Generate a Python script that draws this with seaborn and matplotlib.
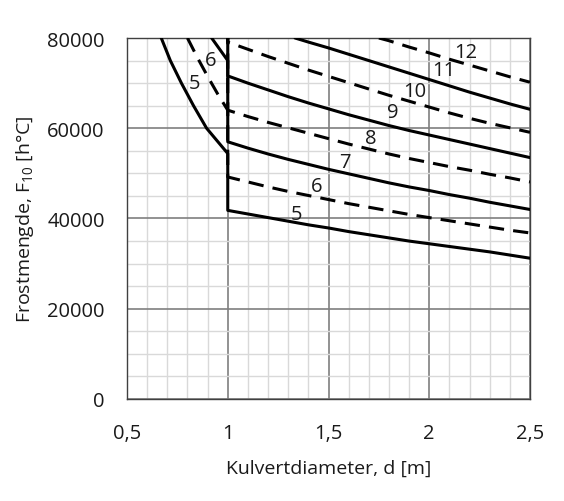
import numpy as np
import pandas as pd
import matplotlib
matplotlib.use("Agg")
import matplotlib.pyplot as plt
import seaborn as sns

# ---- data ----
d_right = [1.0, 1.1, 1.2, 1.3, 1.4, 1.5, 1.6, 1.7, 1.8, 1.9, 2.0, 2.1, 2.2, 2.3, 2.4, 2.5]

x5 = [0.67, 0.715, 0.77, 0.83, 0.895, 1.0] + d_right
y5 = [80000, 75000, 70000, 65000, 60000, 54400,
      41800, 41000, 40200, 39400, 38600, 37900, 37100, 36400, 35700, 35000, 34400,
      33800, 33200, 32600, 31900, 31200]

x6 = [0.80, 0.85, 0.90, 0.95, 1.0] + d_right
y6 = [80000, 75600, 71500, 67600, 64000,
      49200, 48100, 47000, 46000, 45100, 44200, 43300, 42500, 41700, 40900, 40200,
      39500, 38800, 38100, 37400, 36800]

x7 = [0.92, 1.0] + d_right
y7 = [80000, 75000,
      57000, 55600, 54300, 53100, 52000, 50900, 49900, 48900, 47900, 47000, 46200,
      45300, 44500, 43600, 42800, 42000]

x8 = [1.0] + d_right
y8 = [82000,
      64000, 62600, 61300, 60100, 58900, 57700, 56500, 55400, 54300, 53300, 52400,
      51500, 50700, 49800, 49000, 48100]

x9 = [1.0] + d_right
y9 = [82000,
      71600, 70000, 68500, 67000, 65600, 64300, 63000, 61800, 60600, 59500, 58500,
      57500, 56500, 55500, 54500, 53500]

x10 = [1.0] + d_right
y10 = [82000,
       79100, 77500, 75900, 74400, 72900, 71500, 70100, 68700, 67300, 66000, 64700,
       63400, 62200, 61100, 60100, 59100]

x11 = [1.334, 1.4, 1.5, 1.6, 1.7, 1.8, 1.9, 2.0, 2.1, 2.2, 2.3, 2.4, 2.5]
y11 = [80000, 79100, 77800, 76400, 75000, 73600, 72200, 70800, 69400, 68000,
       66700, 65400, 64200]

x12 = [1.75, 1.8, 1.9, 2.0, 2.1, 2.2, 2.3, 2.4, 2.5]
y12 = [80000, 79400, 78000, 76700, 75300, 74000, 72700, 71400, 70200]

curve_names = ["5", "6", "7", "8", "9", "10", "11", "12"]
curve_x = [x5, x6, x7, x8, x9, x10, x11, x12]
curve_y = [y5, y6, y7, y8, y9, y10, y11, y12]
curve_dashed = [False, True, False, True, False, True, False, True]

label_text = ["5", "6", "7", "8", "9", "10", "11", "12", "5", "6"]
label_x = [1.34, 1.44, 1.58, 1.71, 1.82, 1.93, 2.07, 2.18, 0.837, 0.915]
label_y = [41100, 47300, 52600, 57900, 63600, 68200, 73000, 77000, 70000, 75200]

xticks = [0.5, 1.0, 1.5, 2.0, 2.5]
xtick_labels = ["0,5", "1", "1,5", "2", "2,5"]
yticks = [0, 20000, 40000, 60000, 80000]
ytick_labels = ["0", "20000", "40000", "60000", "80000"]

# ---- styling ----
sns.set_theme(style="white")
plt.rcParams["font.family"] = ["Open Sans", "DejaVu Sans"]
plt.rcParams["mathtext.default"] = "regular"

fig = plt.figure(figsize=(5.64, 5.02), dpi=100)
ax = fig.add_axes([0.2252, 0.2032, 0.9397 - 0.2252, 0.9223 - 0.2032])

for name, xs, ys, dashed in zip(curve_names, curve_x, curve_y, curve_dashed):
    df = pd.DataFrame({"d": xs, "F": ys})
    ls = (0, (5, 3)) if dashed else "-"
    sns.lineplot(data=df, x="d", y="F", sort=False, estimator=None,
                 color="black", linewidth=2.2, linestyle=ls, ax=ax, zorder=3)

for t, lx, ly in zip(label_text, label_x, label_y):
    ax.text(lx, ly, t, ha="center", va="center", fontsize=14.5,
            color="#1a1a1a", zorder=4)

ax.set_xlim(0.5, 2.5)
ax.set_ylim(0, 80000)
ax.set_xticks(xticks)
ax.set_xticklabels(xtick_labels)
ax.set_yticks(yticks)
ax.set_yticklabels(ytick_labels)
ax.set_xticks(np.arange(0.5, 2.5001, 0.1), minor=True)
ax.set_yticks(np.arange(0, 80001, 5000), minor=True)
ax.grid(which="minor", color="#d9d9d9", linewidth=1.0, zorder=0)
ax.grid(which="major", color="#7f7f7f", linewidth=1.2, zorder=1)
ax.set_axisbelow(True)
ax.tick_params(which="both", length=0)
ax.tick_params(axis="x", pad=17, labelsize=14.5, colors="#1a1a1a")
ax.tick_params(axis="y", pad=16, labelsize=14.5, colors="#1a1a1a")
for s in ax.spines.values():
    s.set_color("#404040")
    s.set_linewidth(1.0)

ax.set_xlabel("Kulvertdiameter, d [m]", fontsize=14, color="#1a1a1a", labelpad=12)
ax.set_ylabel("Frostmengde, F$_{10}$ [h°C]", fontsize=14, color="#1a1a1a", labelpad=8)

fig.savefig("out.png", dpi=100)
